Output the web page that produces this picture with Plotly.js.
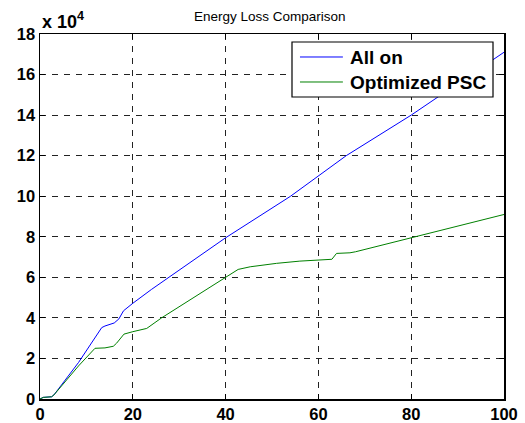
<!DOCTYPE html>
<html>
<head>
<meta charset="utf-8">
<script src="https://cdn.plot.ly/plotly-3.0.1.min.js"></script>
<style>html,body{margin:0;padding:0;background:#fff;}#chart{width:525px;height:423px;}</style>
</head>
<body>
<div id="chart"></div>
<script>
// values in units of 10^4
var allOnX = [0, 0.7, 2.5, 3, 8.3, 13.3, 14, 16, 17, 18, 20, 24, 40, 54, 66, 80, 100];
var allOnY = [0, 0.08, 0.11, 0.2, 1.8, 3.52, 3.6, 3.75, 3.95, 4.35, 4.72, 5.4, 7.95, 10, 12, 14, 17.1];

var pscX = [0, 0.7, 2.5, 3, 8.3, 11.85, 14, 15.8, 16.5, 18.1, 20, 23, 26.2, 40, 41.7, 42.7, 45.3, 51, 56, 62.9, 63.9, 66.8, 68, 80, 100];
var pscY = [0, 0.08, 0.11, 0.2, 1.63, 2.5, 2.52, 2.6, 2.75, 3.2, 3.32, 3.48, 4.0, 6.0, 6.28, 6.39, 6.52, 6.69, 6.80, 6.89, 7.18, 7.21, 7.26, 7.95, 9.1];

var xTicks = [0, 20, 40, 60, 80, 100];
var yTicks = [0, 2, 4, 6, 8, 10, 12, 14, 16, 18];
var seriesNames = ['All on', 'Optimized PSC'];
var seriesColors = ['#0000ff', '#008000'];

var FONT = 'Liberation Sans, Arial, sans-serif';

var traces = [
  {x: allOnX, y: allOnY, type: 'scatter', mode: 'lines', name: seriesNames[0],
   line: {color: seriesColors[0], width: 1}},
  {x: pscX, y: pscY, type: 'scatter', mode: 'lines', name: seriesNames[1],
   line: {color: seriesColors[1], width: 1}}
];

var axisCommon = {
  showline: true, linecolor: '#000', linewidth: 1.5, mirror: 'ticks',
  ticks: 'inside', ticklen: 5, tickwidth: 1, tickcolor: '#000',
  showgrid: true, gridcolor: '#222', gridwidth: 1, griddash: '6px,6px',
  zeroline: false,
  tickfont: {family: FONT, size: 16.5, color: '#000', weight: 'bold'}
};

// legend box (drawn MATLAB-style)
var legRowsY = [0.937, 0.8685];
var shapes = [
  {type: 'rect', xref: 'paper', yref: 'paper', x0: 0.5431, x1: 0.9763, y0: 0.8274, y1: 0.9781,
   fillcolor: '#fff', line: {color: '#000', width: 1.2}, layer: 'above'}
];
var annotations = [{
  text: '<b>x 10<sup>4</sup></b>', xref: 'paper', yref: 'paper', x: 0, y: 1,
  xanchor: 'left', yanchor: 'bottom', showarrow: false, yshift: 0,
  font: {family: FONT, size: 18, color: '#000'}
}];
seriesNames.forEach(function (name, i) {
  shapes.push({type: 'line', xref: 'paper', yref: 'paper', x0: 0.5603, x1: 0.6528,
               y0: legRowsY[i], y1: legRowsY[i], line: {color: seriesColors[i], width: 1}, layer: 'above'});
  annotations.push({text: '<b>' + name + '</b>', xref: 'paper', yref: 'paper', x: 0.6638, y: legRowsY[i],
                    xanchor: 'left', yanchor: 'middle', showarrow: false, yshift: -1,
                    font: {family: FONT, size: 19, color: '#000'}});
});

var layout = {
  width: 525, height: 423,
  margin: {l: 40, r: 21, t: 34, b: 24, pad: 0},
  paper_bgcolor: '#fff', plot_bgcolor: '#fff',
  title: {text: 'Energy Loss Comparison', font: {family: FONT, size: 13.5, color: '#000'},
          xref: 'paper', x: 0.495, xanchor: 'center', yref: 'container', y: 0.961, yanchor: 'middle'},
  xaxis: Object.assign({}, axisCommon, {range: [0, 100], tickvals: xTicks, ticktext: xTicks.map(String)}),
  yaxis: Object.assign({}, axisCommon, {range: [0, 18], tickvals: yTicks, ticktext: yTicks.map(String)}),
  showlegend: false,
  shapes: shapes,
  annotations: annotations
};

Plotly.newPlot('chart', traces, layout, {staticPlot: true, displayModeBar: false});
</script>
</body>
</html>
